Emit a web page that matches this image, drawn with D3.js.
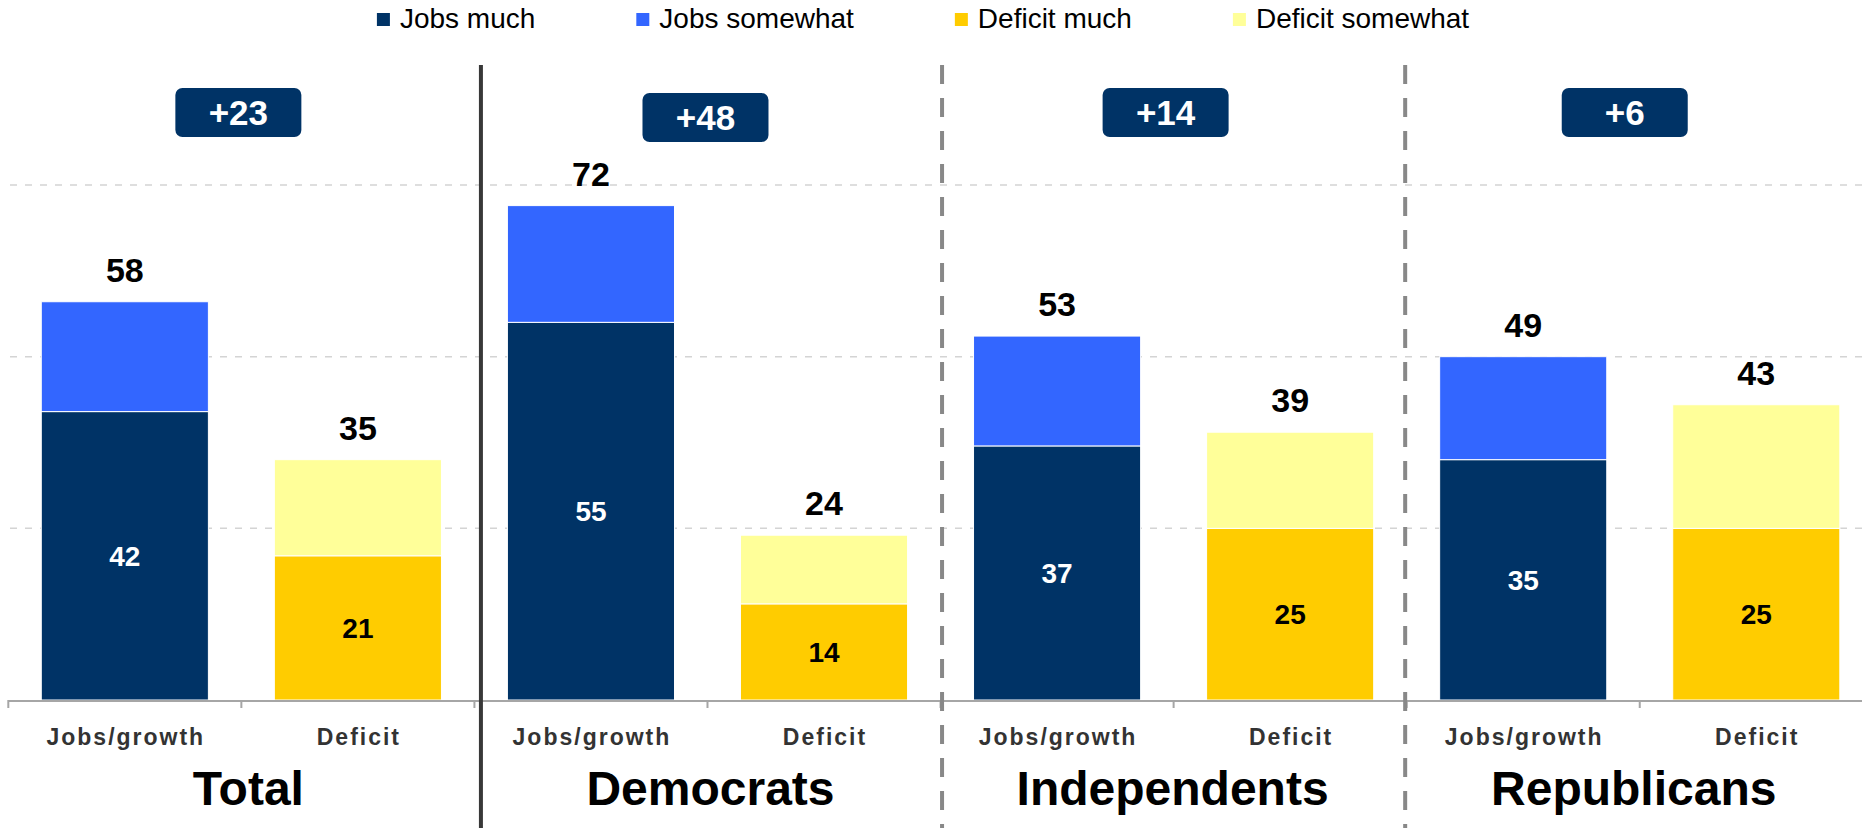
<!DOCTYPE html>
<html><head><meta charset="utf-8">
<script src="https://cdn.jsdelivr.net/npm/d3@7"></script>
<style>
html,body{margin:0;padding:0;background:#fff;}
svg{display:block;font-family:"Liberation Sans",Arial,sans-serif;}
</style></head>
<body>
<svg id="chart" width="1862" height="828"></svg>
<script>
// ---- data ----
const groups = ["Total", "Democrats", "Independents", "Republicans"];
const categories = ["Jobs/growth", "Deficit"];
const seriesNames = ["Jobs much", "Jobs somewhat", "Deficit much", "Deficit somewhat"];
const jobsMuch = [42, 55, 37, 35];
const jobsSomewhat = [16, 17, 16, 15];
const jobsTotal = [58, 72, 53, 49];
const deficitMuch = [21, 14, 25, 25];
const deficitSomewhat = [14, 10, 14, 18];
const deficitTotal = [35, 24, 39, 43];
const netLead = ["+23", "+48", "+14", "+6"];
const gridTicks = [25, 50, 75];

// ---- style / layout ----
const colors = ["#003366", "#3366ff", "#ffcc00", "#ffff99"];
const W = 1862, H = 828;
const baseY = 700, topY = 185;
const svg = d3.select("#chart");

const slots = [];
groups.forEach((g, i) => categories.forEach((c, j) => slots.push(g + "|" + c)));

const x = d3.scaleBand().domain(slots).range([8.3, 1872.8]).paddingInner(0.283).paddingOuter(0.1415);
const y = d3.scaleLinear().domain([0, 75]).range([baseY, topY]);
const step = x.step();

// gridlines
svg.append("g").selectAll("line").data(gridTicks).join("line")
  .attr("x1", 10).attr("x2", W)
  .attr("y1", d => y(d)).attr("y2", d => y(d))
  .attr("stroke", "#d4d4d4").attr("stroke-width", 1.5).attr("stroke-dasharray", "7,8");

// stacked data
const bars = [];
groups.forEach((g, i) => {
  bars.push({key: g + "|Jobs/growth", segs: [[0, jobsMuch[i], 0], [jobsMuch[i], jobsMuch[i] + jobsSomewhat[i], 1]], much: jobsMuch[i], total: jobsTotal[i], inner: "#fff"});
  bars.push({key: g + "|Deficit", segs: [[0, deficitMuch[i], 2], [deficitMuch[i], deficitMuch[i] + deficitSomewhat[i], 3]], much: deficitMuch[i], total: deficitTotal[i], inner: "#000"});
});

const bg = svg.append("g");
bars.forEach(b => {
  b.segs.forEach(s => {
    bg.append("rect")
      .attr("x", x(b.key)).attr("width", x.bandwidth())
      .attr("y", y(s[1])).attr("height", y(s[0]) - y(s[1]))
      .attr("fill", colors[s[2]]).attr("stroke", "#fff").attr("stroke-width", 1);
  });
  const top = b.segs[1][1];
  bg.append("text")
    .attr("x", x(b.key) + x.bandwidth() / 2).attr("y", y(top) - 20)
    .attr("text-anchor", "middle").attr("font-size", 34).attr("font-weight", "bold").attr("fill", "#000")
    .text(b.total);
  bg.append("text")
    .attr("x", x(b.key) + x.bandwidth() / 2).attr("y", (y(0) + y(b.much)) / 2)
    .attr("dy", "0.36em")
    .attr("text-anchor", "middle").attr("font-size", 28).attr("font-weight", "bold").attr("fill", b.inner)
    .text(b.much);
});

// x axis
const ax = svg.append("g");
ax.append("line").attr("x1", 8.3).attr("x2", W).attr("y1", baseY + 1).attr("y2", baseY + 1)
  .attr("stroke", "#a6a6a6").attr("stroke-width", 2);
d3.range(slots.length + 1).forEach(k => {
  const xx = 8.3 + k * step;
  ax.append("line").attr("x1", xx).attr("x2", xx).attr("y1", baseY).attr("y2", baseY + 8)
    .attr("stroke", "#a6a6a6").attr("stroke-width", 2);
});
ax.selectAll("text.cat").data(slots).join("text")
  .attr("class", "cat")
  .attr("x", d => x(d) + x.bandwidth() / 2 + 1)
  .attr("y", 745)
  .attr("text-anchor", "middle").attr("font-size", 23).attr("font-weight", "bold")
  .attr("letter-spacing", 2).attr("fill", "#333")
  .text(d => d.split("|")[1]);

// panel dividers
const dividerOffsets = [6.5, 1.5, -1.5];
[1, 2, 3].forEach((p, k) => {
  const xx = 8.3 + p * 2 * step + dividerOffsets[k];
  svg.append("line").attr("x1", xx).attr("x2", xx).attr("y1", 65).attr("y2", H)
    .attr("stroke", k === 0 ? "#383838" : "#888")
    .attr("stroke-width", 4)
    .attr("stroke-dasharray", k === 0 ? null : "19,14");
});

// group titles
const titleOffsets = [7, 3, -1, -6];
groups.forEach((g, i) => {
  const cx = 8.3 + (2 * i + 1) * step + titleOffsets[i];
  svg.append("text").attr("x", cx).attr("y", 805)
    .attr("text-anchor", "middle").attr("font-size", 48).attr("font-weight", "bold").attr("fill", "#000")
    .text(g);
});

// badges
const badgeDx = [-3, -2, -8, -15];
const badgeTop = [88, 93, 88, 88];
groups.forEach((g, i) => {
  const cx = 8.3 + (2 * i + 1) * step + badgeDx[i];
  svg.append("rect").attr("x", cx - 63).attr("y", badgeTop[i]).attr("width", 126).attr("height", 49)
    .attr("rx", 7).attr("fill", "#003366");
  svg.append("text").attr("x", cx).attr("y", badgeTop[i] + 24.5).attr("dy", "0.36em")
    .attr("text-anchor", "middle").attr("font-size", 35).attr("font-weight", "bold").attr("fill", "#fff")
    .text(netLead[i]);
});

// legend
const lg = svg.append("g");
let lx = 0;
const items = [];
seriesNames.forEach((n, i) => {
  const t = lg.append("text").attr("y", 28).attr("font-size", 28).attr("fill", "#000").text(n);
  const w = t.node().getComputedTextLength();
  items.push({t, w, i});
});
items.forEach((it, k) => {
  lg.append("rect").attr("x", lx).attr("y", 13).attr("width", 13).attr("height", 13).attr("fill", colors[it.i]);
  it.t.attr("x", lx + 23);
  lx += 23 + it.w + (k < items.length - 1 ? 101 : 0);
});
lg.attr("transform", `translate(${923 - lx / 2},0)`);
</script>
</body></html>
